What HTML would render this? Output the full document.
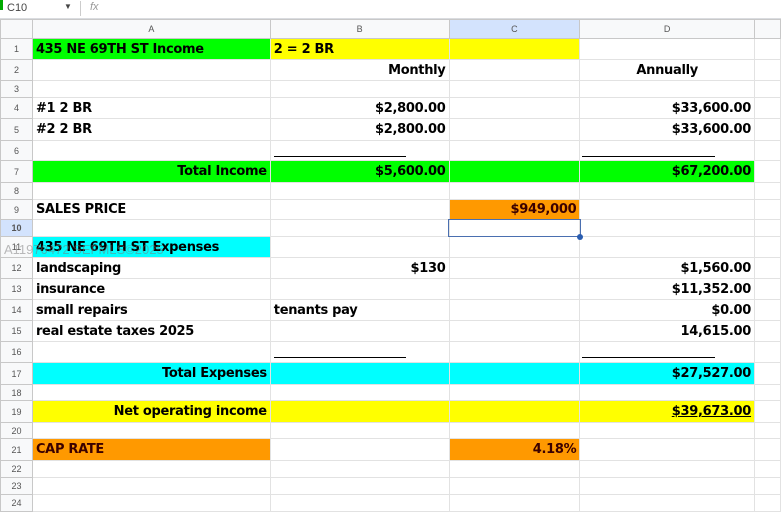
<!DOCTYPE html>
<html><head><meta charset="utf-8"><style>
*{margin:0;padding:0;box-sizing:border-box}
body{width:781px;height:499px;overflow:hidden;background:#fff;position:relative;font-family:"DejaVu Sans","Liberation Sans",sans-serif}
.top{position:absolute;left:0;top:0;width:781px;height:19px;background:#fff;border-bottom:1px solid #dadce0;font-family:"Liberation Sans",sans-serif;font-size:11px;color:#444}
table{position:absolute;left:0;top:19px;border-collapse:collapse;table-layout:fixed}
td{border:1px solid #e2e2e2;padding:0 3px;font-size:13px;font-weight:bold;letter-spacing:-0.3px;white-space:nowrap;overflow:visible;color:#000;vertical-align:middle}
td.h{background:#f8f9fa;color:#555;font-weight:normal;font-size:9px;text-align:center;font-family:"Liberation Sans",sans-serif;letter-spacing:0;border-color:#c8c8c8}
tr.ch td{background:#f8f9fa;color:#555;font-weight:normal;font-size:9px;text-align:center;font-family:"Liberation Sans",sans-serif;letter-spacing:0;border-color:#c8c8c8}
.r{text-align:right}.c{text-align:center}
.g{background:#00ff00}.y{background:#ffff00}.cy{background:#00ffff}.o{background:#ff9900;color:#3a0000}
.ln{position:absolute;height:1px;background:#000}
</style></head><body>
<div class="top"><span style="position:absolute;left:0;top:0;width:3px;height:10px;background:#0a0"></span><span style="position:absolute;left:7px;top:2px">C10</span><span style="position:absolute;left:64px;top:2px;font-size:8px">▼</span><span style="position:absolute;left:80px;top:1px;width:1px;height:15px;background:#ccc"></span><span style="position:absolute;left:90px;top:1px;font-style:italic;color:#999">fx</span></div>
<table>
<colgroup><col style="width:32px"><col style="width:238px"><col style="width:179px"><col style="width:131px"><col style="width:175px"><col style="width:26px"></colgroup>
<tr class="ch" style="height:19px"><td></td><td>A</td><td>B</td><td style="background:#d3e3fd">C</td><td>D</td><td></td></tr>
<tr style="height:21px"><td class="h">1</td><td class="g">435 NE 69TH ST Income</td><td class="y">2 = 2 BR</td><td class="y"></td><td></td><td></td></tr>
<tr style="height:21px"><td class="h">2</td><td></td><td class="r">Monthly</td><td></td><td class="c">Annually</td><td></td></tr>
<tr style="height:17px"><td class="h">3</td><td></td><td></td><td></td><td></td><td></td></tr>
<tr style="height:21px"><td class="h">4</td><td>#1 2 BR</td><td class="r">$2,800.00</td><td></td><td class="r">$33,600.00</td><td></td></tr>
<tr style="height:22px"><td class="h">5</td><td>#2 2 BR</td><td class="r">$2,800.00</td><td></td><td class="r">$33,600.00</td><td></td></tr>
<tr style="height:20px"><td class="h">6</td><td></td><td></td><td></td><td></td><td></td></tr>
<tr style="height:22px"><td class="h">7</td><td class="g r">Total Income</td><td class="g r">$5,600.00</td><td class="g"></td><td class="g r">$67,200.00</td><td></td></tr>
<tr style="height:17px"><td class="h">8</td><td></td><td></td><td></td><td></td><td></td></tr>
<tr style="height:20px"><td class="h">9</td><td>SALES PRICE</td><td></td><td class="o r">$949,000</td><td></td><td></td></tr>
<tr style="height:17px"><td class="h" style="background:#d3e3fd;font-weight:bold">10</td><td></td><td></td><td></td><td></td><td></td></tr>
<tr style="height:21px"><td class="h">11</td><td class="cy">435 NE 69TH ST Expenses</td><td></td><td></td><td></td><td></td></tr>
<tr style="height:21px"><td class="h">12</td><td>landscaping</td><td class="r">$130</td><td></td><td class="r">$1,560.00</td><td></td></tr>
<tr style="height:21px"><td class="h">13</td><td>insurance</td><td></td><td></td><td class="r">$11,352.00</td><td></td></tr>
<tr style="height:21px"><td class="h">14</td><td>small repairs</td><td>tenants pay</td><td></td><td class="r">$0.00</td><td></td></tr>
<tr style="height:21px"><td class="h">15</td><td>real estate taxes 2025</td><td></td><td></td><td class="r">14,615.00</td><td></td></tr>
<tr style="height:21px"><td class="h">16</td><td></td><td></td><td></td><td></td><td></td></tr>
<tr style="height:22px"><td class="h">17</td><td class="cy r">Total Expenses</td><td class="cy"></td><td class="cy"></td><td class="cy r">$27,527.00</td><td></td></tr>
<tr style="height:16px"><td class="h">18</td><td></td><td></td><td></td><td></td><td></td></tr>
<tr style="height:22px"><td class="h">19</td><td class="y r">Net operating income</td><td class="y"></td><td class="y"></td><td class="y r" style="text-decoration:underline">$39,673.00</td><td></td></tr>
<tr style="height:16px"><td class="h">20</td><td></td><td></td><td></td><td></td><td></td></tr>
<tr style="height:22px"><td class="h">21</td><td class="o">CAP RATE</td><td></td><td class="o r">4.18%</td><td></td><td></td></tr>
<tr style="height:17px"><td class="h">22</td><td></td><td></td><td></td><td></td><td></td></tr>
<tr style="height:17px"><td class="h">23</td><td></td><td></td><td></td><td></td><td></td></tr>
<tr style="height:17px"><td class="h">24</td><td></td><td></td><td></td><td></td><td></td></tr>
</table>
<div class="ln" style="left:274px;top:156px;width:132px"></div>
<div class="ln" style="left:582px;top:156px;width:133px"></div>
<div class="ln" style="left:274px;top:357px;width:132px"></div>
<div class="ln" style="left:582px;top:357px;width:133px"></div>
<div style="position:absolute;left:448px;top:219px;width:133px;height:18px;border:1px solid #4a6fb0"></div>
<div style="position:absolute;left:577px;top:234px;width:6px;height:6px;border-radius:50%;background:#2a5db0"></div>
<div style="position:absolute;left:4px;top:242px;font-family:'Liberation Sans',sans-serif;font-size:13px;color:rgba(120,120,120,0.5)">A11970472 SEFMLS©2025</div>
</body></html>
